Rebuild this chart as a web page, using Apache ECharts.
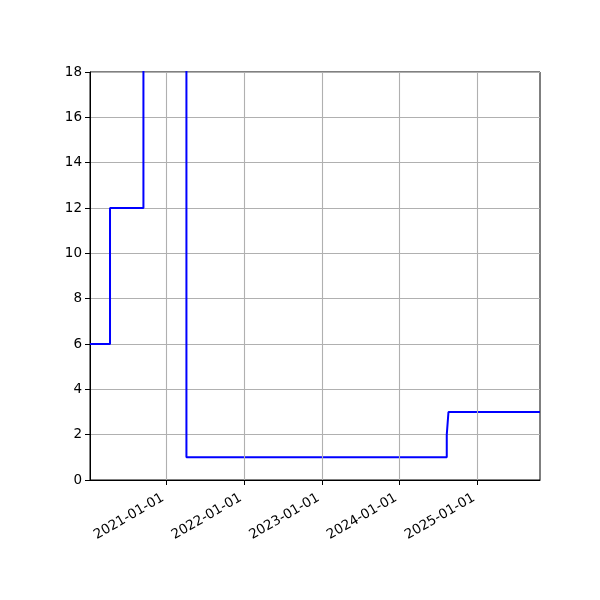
<!DOCTYPE html>
<html><head><meta charset="utf-8">
<script src="https://cdn.jsdelivr.net/npm/echarts@6/dist/echarts.min.js"></script>
<style>html,body{margin:0;padding:0;background:#fff}#c{width:600px;height:600px}</style>
</head><body><div id="c"></div>
<script>
// step-post data: value holds from date until next date
const stepDates = ['2020-01-08','2020-04-11','2020-09-15','2021-04-05','2024-08-10','2024-08-18','2025-10-22'];
const stepValues = [6, 12, 25, 1, 2, 3, 3];
const xTickLabels = ['2021-01-01','2022-01-01','2023-01-01','2024-01-01','2025-01-01'];
const xMinDate = '2020-01-08';
const xMaxDate = '2025-10-22';

const ts = s => Date.parse(s + 'T00:00:00Z');
const fmt = v => new Date(v).toISOString().slice(0,10);
const data = stepDates.map((d,i)=>[ts(d), stepValues[i]]);
const tickVals = xTickLabels.map(ts);

const chart = echarts.init(document.getElementById('c'), null, {renderer:'canvas'});
chart.setOption({
  animation:false,
  grid:{left:90,right:60,top:72,bottom:120,show:true,borderColor:'#000',borderWidth:1,backgroundColor:'transparent'},
  xAxis:{
    type:'value', min:ts(xMinDate), max:ts(xMaxDate),
    axisLine:{show:true,lineStyle:{color:'#000',width:1}},
    axisTick:{show:true,length:5,lineStyle:{color:'#000'},customValues:tickVals},
    axisLabel:{customValues:tickVals,formatter:v=>fmt(v),rotate:30,color:'#000',fontSize:13.5,fontFamily:'DejaVu Sans',margin:15,padding:[0,4,0,0]},
    splitLine:{show:false}
  },
  yAxis:{
    type:'value', min:0, max:18, interval:2,
    axisLine:{show:true,lineStyle:{color:'#000',width:1}},
    axisTick:{show:true,length:5,lineStyle:{color:'#000'}},
    axisLabel:{color:'#000',fontSize:13.5,fontFamily:'DejaVu Sans',margin:8},
    splitLine:{show:true,lineStyle:{color:'#b0b0b0',width:1.1}}
  },
  series:[{
    type:'line', step:'end', data:data, showSymbol:false, clip:true,
    lineStyle:{color:'#0000ff',width:2},
    markLine:{silent:true,symbol:'none',label:{show:false},
      lineStyle:{color:'#b0b0b0',width:1.1,type:'solid'},
      data:tickVals.map(v=>({xAxis:v}))}
  }]
});
</script></body></html>
